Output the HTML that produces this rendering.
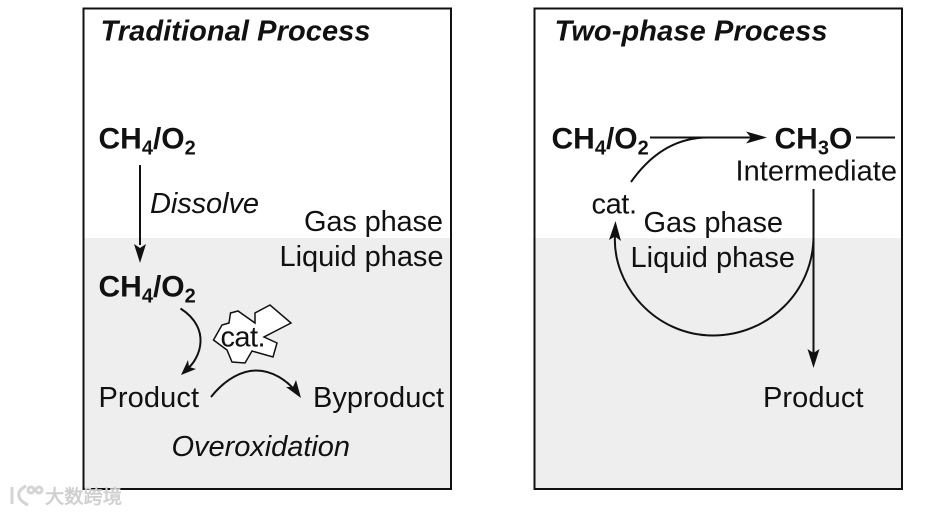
<!DOCTYPE html>
<html>
<head>
<meta charset="utf-8">
<style>
html,body{margin:0;padding:0;background:#fff;width:934px;height:513px;overflow:hidden}
svg{display:block}
text{font-family:"Liberation Sans","Noto Sans CJK SC",sans-serif;font-size:29px;fill:#111}
.b{font-weight:bold;font-size:30px}
.i{font-style:italic}
.t{font-weight:bold;font-style:italic}
.s{font-size:20px}
</style>
</head>
<body>
<svg width="934" height="513" viewBox="0 0 934 513" xmlns="http://www.w3.org/2000/svg">
<g style="filter:blur(0.3px)">
<rect x="84" y="238" width="367" height="250" fill="#eeeeee"/>
<rect x="535" y="238" width="367" height="250" fill="#eeeeee"/>
<rect x="83.500" y="8.500" width="367.500" height="480.500" fill="none" stroke="#111" stroke-width="2"/>
<rect x="534.500" y="8.500" width="367.500" height="480.500" fill="none" stroke="#111" stroke-width="2"/>

<text class="t" x="100.500" y="40.500" textLength="270">Traditional Process</text>
<text class="t" x="554.500" y="40.500" textLength="273">Two-phase Process</text>

<!-- left column -->
<text class="b" x="98.500" y="148.500">CH<tspan class="s" dy="6">4</tspan><tspan dy="-6">/O</tspan><tspan class="s" dy="6">2</tspan></text>
<line x1="140" y1="165" x2="140" y2="245" stroke="#111" stroke-width="2"/>
<polygon points="140,263 134,244 140,248 146,244" fill="#111"/>
<text class="i" x="150" y="213" textLength="109">Dissolve</text>
<text x="304" y="231" textLength="139">Gas phase</text>
<text x="279.500" y="266" textLength="164">Liquid phase</text>
<text class="b" x="98.500" y="296.500">CH<tspan class="s" dy="6">4</tspan><tspan dy="-6">/O</tspan><tspan class="s" dy="6">2</tspan></text>

<path d="M180.500 308.500 C197 319, 201 332, 200.500 342 C200 353, 194 364, 186 370" fill="none" stroke="#111" stroke-width="2"/>
<polygon points="181,375 188,360 189,367 196,369" fill="#111"/>

<polygon points="213.500,340 222,325 229,323 230.500,313 238,311 255,323 255,313 270,305 291,323 264,337 277,343 273,357 252,351 245,363 232,362 227,350" fill="#fff" stroke="#111" stroke-width="1.500"/>
<text x="220.500" y="346.500" textLength="45">cat.</text>

<text x="98.500" y="407" textLength="100.500">Product</text>
<path d="M211 397 C226 378, 243 370.500, 256 370.500 C272 370.500, 287 380, 296 392" fill="none" stroke="#111" stroke-width="2"/>
<polygon points="301,398 286,387 293,387 296,380" fill="#111"/>
<text x="313" y="407" textLength="131">Byproduct</text>
<text class="i" x="171.500" y="456" textLength="178.500">Overoxidation</text>

<!-- right column -->
<text class="b" x="551.500" y="148.500">CH<tspan class="s" dy="6">4</tspan><tspan dy="-6">/O</tspan><tspan class="s" dy="6">2</tspan></text>
<line x1="650" y1="137.500" x2="755" y2="137.500" stroke="#111" stroke-width="2"/>
<polygon points="767,137.500 746,131.500 751,137.500 746,143.500" fill="#111"/>
<path d="M631 182 C650 155, 675 137.500, 708 137.500" fill="none" stroke="#111" stroke-width="2"/>
<text class="b" x="774.500" y="148.500">CH<tspan class="s" dy="6">3</tspan><tspan dy="-6">O</tspan></text>
<line x1="856" y1="137.500" x2="895" y2="137.500" stroke="#111" stroke-width="2"/>
<text x="735.500" y="180.500" textLength="161.500">Intermediate</text>
<text x="591.500" y="213.500" textLength="45.500">cat.</text>
<text x="643.500" y="232" textLength="139.500">Gas phase</text>
<text x="630.500" y="267" textLength="164.500">Liquid phase</text>

<line x1="813.500" y1="189" x2="813.500" y2="355" stroke="#111" stroke-width="2"/>
<polygon points="813.500,368 807.500,349 813.500,353 819.500,349" fill="#111"/>
<path d="M813.500 237 C813 292, 768 335.500, 713 335.500 C655 335.500, 612 285, 615 235" fill="none" stroke="#111" stroke-width="2"/>
<polygon points="615.500,221 609,240 615,236.500 621,241" fill="#111"/>
<text x="763" y="407" textLength="100.500">Product</text>

<!-- watermark -->
<g fill="none" stroke="#d4d4d4" stroke-width="3">
<path d="M12 487 L12 504 M26 486 C16 491,16 499,28 505"/>
<circle cx="31" cy="490" r="3"/>
<circle cx="39" cy="490" r="3"/>
</g>
<text x="45" y="503" textLength="77" lengthAdjust="spacingAndGlyphs" style="font-size:19px;fill:#cfcfcf;stroke:#cfcfcf;stroke-width:0.6">大数跨境</text>
</g>
</svg>
</body>
</html>
